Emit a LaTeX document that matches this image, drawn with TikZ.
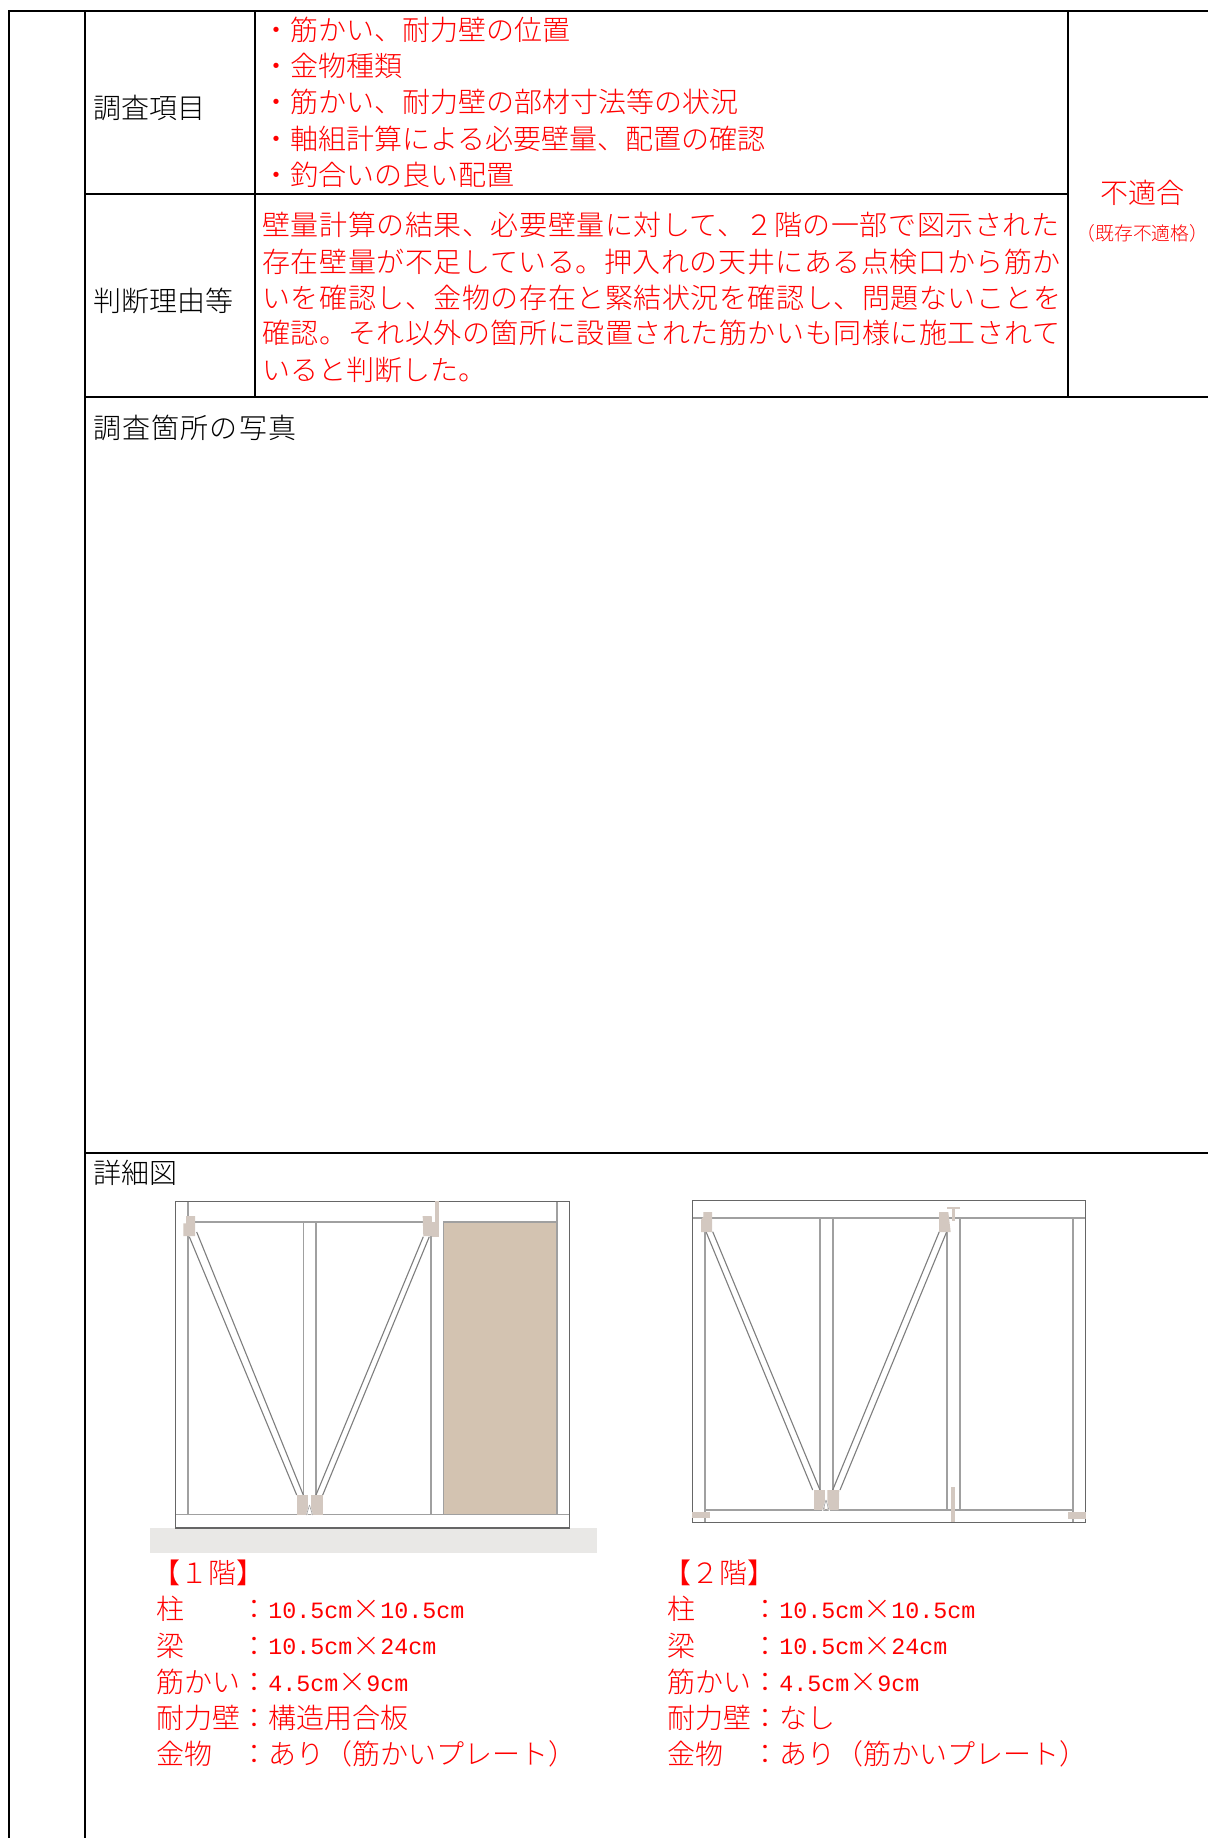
\documentclass[tikz,border=0pt]{standalone}
\usepackage{fontspec}
\setmainfont{Noto Sans CJK JP Light}
\newfontfamily\latf{Liberation Mono}
\newfontfamily\jspread[LetterSpace=2.0]{Noto Sans CJK JP Light}
\newfontfamily\jwide[LetterSpace=4.0]{Noto Sans CJK JP Light}
\definecolor{metal}{HTML}{D3C8C0}
\definecolor{panel}{HTML}{D3C3B1}
\definecolor{ground}{HTML}{E9E8E6}
\definecolor{frameout}{HTML}{666666}
\definecolor{frameinner}{HTML}{A0A0A0}
\definecolor{bracecol}{HTML}{7E7E7E}
\newcommand{\ltn}[1]{\raisebox{0.6pt}{\latf\fontsize{11.67}{14}\selectfont #1}}
\tikzset{
  tbl/.style={draw=black,line width=1pt},
  lbl/.style={anchor=base west,inner sep=0pt,font=\fontsize{14}{16}\selectfont,text=black},
  red/.style={anchor=base west,inner sep=0pt,font=\fontsize{14}{16}\selectfont,text=red},
  outerf/.style={draw=frameout,line width=0.65pt},
  innerf/.style={draw=frameinner,line width=0.8pt},
  brace/.style={draw=bracecol,line width=0.55pt},
  hw/.style={fill=metal,draw=none},
  wedge/.style={draw=white,line width=0.5pt}
}
\begin{document}
\begin{tikzpicture}[x=0.5pt,y=-0.5pt]
\useasboundingbox (0,0) rectangle (1208,1838);
\fill[white] (0,0) rectangle (1208,1838);
% table rules
\draw[tbl] (8.5,1838) -- (8.5,11) -- (1208,11);
\draw[tbl] (84.6,11) -- (84.6,1838);
\draw[tbl] (254.6,11) -- (254.6,397);
\draw[tbl] (1067.5,11) -- (1067.5,397);
\draw[tbl] (84.6,193.5) -- (1067.5,193.5);
\draw[tbl] (84.6,397) -- (1208,397);
\draw[tbl] (84.6,1153) -- (1208,1153);
% labels
\node[lbl] (a1) at (93,118.6) {調査項目};
\node[lbl] (a2) at (93,311.6) {判断理由等};
\node[lbl] (a3) at (93,438.9) {\jwide 調査箇所の写真};
\node[lbl] (a4) at (93,1183.6) {詳細図};
% list
\node[red] (l1) at (262,40.6) {・筋かい、耐力壁の位置};
\node[red] (l2) at (262,76.6) {・金物種類};
\node[red] (l3) at (262,112.9) {・筋かい、耐力壁の部材寸法等の状況};
\node[red] (l4) at (262,149.6) {・軸組計算による必要壁量、配置の確認};
\node[red] (l5) at (262,185.6) {・釣合いの良い配置};
% reason
\node[red] (r1) at (262,235.6) {\jspread 壁量計算の結果、必要壁量に対して、２階の一部で図示された};
\node[red] (r2) at (262,272.3) {\jspread 存在壁量が不足している。押入れの天井にある点検口から筋か};
\node[red] (r3) at (262,308.3) {\jspread いを確認し、金物の存在と緊結状況を確認し、問題ないことを};
\node[red] (r4) at (262,343.9) {\jspread 確認。それ以外の箇所に設置された筋かいも同様に施工されて};
\node[red] (r5) at (262,380.6) {いると判断した。};
% verdict
\node[inner sep=0pt,text=red,font=\fontsize{14}{16}\selectfont] (v1) at (1142.5,192.7) {不適合};
\node[inner sep=0pt,text=red,font=\fontsize{9.4}{11}\selectfont] (v2) at (1142.5,233.5) {（既存不適格）};
% ---- 1F drawing
\fill[ground] (150,1528) rectangle (596.7,1552.7);
\fill[panel] (443.3,1221.7) rectangle (557,1514.3);
\draw[innerf] (188,1201.3) -- (188,1514.3);
\draw[innerf] (557,1201.3) -- (557,1514.3);
\draw[innerf] (188,1221.7) -- (430.7,1221.7);
\draw[innerf] (443.3,1221.7) -- (557,1221.7);
\draw[innerf] (303.3,1221.7) -- (303.3,1514.3);
\draw[innerf] (315.7,1221.7) -- (315.7,1514.3);
\draw[innerf] (430.7,1221.7) -- (430.7,1514.3);
\draw[innerf] (443.3,1221.7) -- (443.3,1514.3);
\draw[innerf] (175.3,1514.3) -- (569.3,1514.3);
\draw[outerf] (175.3,1201.3) rectangle (569.3,1528);
\draw[brace] (189.3,1236.7) -- (296.7,1495);
\draw[brace] (196.7,1232) -- (303.3,1495);
\draw[brace] (316,1495) -- (423.3,1236.7);
\draw[brace] (322.7,1495) -- (429.3,1236.7);
\fill[hw] (186,1216) -- (195,1216) -- (195,1236) -- (183.3,1236) -- (183.3,1223.3) -- (186,1223.3) -- cycle;
\fill[hw] (422.7,1216) -- (431.7,1216) -- (432.7,1236) -- (423.3,1236) -- cycle;
\fill[hw] (435,1201) rectangle (438.7,1236.7);
\fill[hw] (431.7,1222) rectangle (435,1236.7);
\fill[hw] (296.7,1495) rectangle (308.3,1515);
\fill[hw] (310.7,1495) rectangle (322.7,1515);
\draw[wedge] (309.5,1505) -- (305.7,1518);
\draw[wedge] (309.5,1505) -- (313.3,1518);
\draw[frameinner,line width=0.3pt] (309.5,1505) -- (306.5,1515);
\draw[frameinner,line width=0.3pt] (309.5,1505) -- (312.5,1515);
% ---- 2F drawing
\draw[innerf] (692.3,1217.7) -- (1085.7,1217.7);
\draw[innerf] (705,1217.7) -- (705,1522.3);
\draw[innerf] (1073,1217.7) -- (1073,1522.3);
\draw[innerf] (705,1509.7) -- (1073,1509.7);
\draw[innerf] (820,1217.7) -- (820,1509.7);
\draw[innerf] (832.7,1217.7) -- (832.7,1509.7);
\draw[innerf] (947,1217.7) -- (947,1509.7);
\draw[innerf] (959.7,1217.7) -- (959.7,1509.7);
\draw[outerf] (692.3,1200.3) rectangle (1085.7,1522.3);
\draw[brace] (706,1231.7) -- (812.7,1490);
\draw[brace] (712.7,1231.7) -- (820,1490);
\draw[brace] (832.7,1490) -- (939.3,1231.7);
\draw[brace] (840,1490) -- (946.7,1231.7);
\fill[hw] (703.3,1212) -- (712,1212) -- (712,1232) -- (701,1232) -- (701,1220) -- (703.3,1216.7) -- cycle;
\fill[hw] (939,1212) -- (948.3,1212) -- (950.7,1232) -- (939,1232) -- cycle;
\fill[hw] (946.7,1206.7) rectangle (960,1209);
\fill[hw] (952,1209) rectangle (954.7,1221.3);
\fill[hw] (814,1490) rectangle (825,1510);
\fill[hw] (827.3,1490) -- (839.3,1490) -- (838.7,1510) -- (827.3,1510) -- cycle;
\draw[wedge] (826,1500) -- (822,1513);
\draw[wedge] (826,1500) -- (830,1513);
\draw[frameinner,line width=0.3pt] (826,1500) -- (823,1510);
\draw[frameinner,line width=0.3pt] (826,1500) -- (829,1510);
\fill[hw] (951.3,1487.3) rectangle (955.3,1522.3);
\fill[hw] (692.3,1511.7) rectangle (710.3,1518.3);
\fill[hw] (1067.7,1512.3) rectangle (1085.7,1519);
% ---- spec text
\node[red] (f1t) at (152,1583) {【１階】};
\node[red] (f1a) at (156,1619.6) {柱　　：\ltn{10.5cm}×\ltn{10.5cm}};
\node[red] (f1b) at (156,1656) {梁　　：\ltn{10.5cm}×\ltn{24cm}};
\node[red] (f1c) at (156,1692.6) {筋かい：\ltn{4.5cm}×\ltn{9cm}};
\node[red] (f1d) at (156,1728.6) {耐力壁：構造用合板};
\node[red] (f1e) at (156,1764) {金物　：あり（筋かいプレート）};
\node[red] (f2t) at (663,1583) {【２階】};
\node[red] (f2a) at (667,1619.6) {柱　　：\ltn{10.5cm}×\ltn{10.5cm}};
\node[red] (f2b) at (667,1656) {梁　　：\ltn{10.5cm}×\ltn{24cm}};
\node[red] (f2c) at (667,1692.6) {筋かい：\ltn{4.5cm}×\ltn{9cm}};
\node[red] (f2d) at (667,1728.6) {耐力壁：なし};
\node[red] (f2e) at (667,1764) {金物　：あり（筋かいプレート）};
\end{tikzpicture}
\end{document}
